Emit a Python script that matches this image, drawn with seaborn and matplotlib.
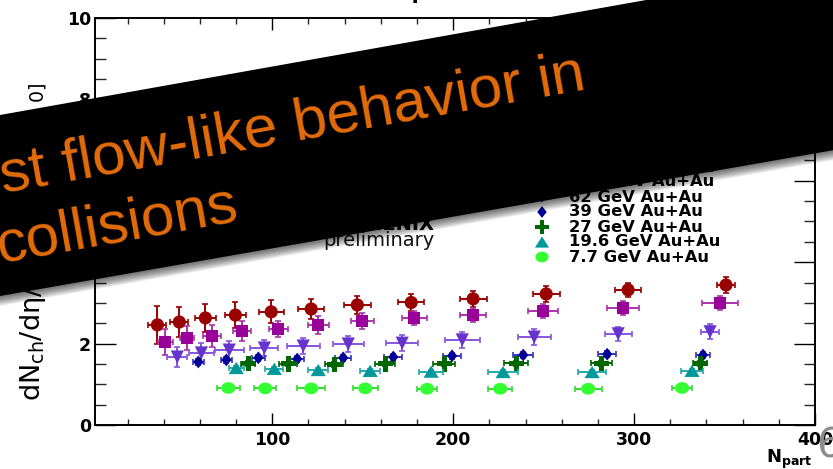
import numpy as np
import pandas as pd
import matplotlib
matplotlib.use("Agg")
import matplotlib.pyplot as plt
from matplotlib.path import Path
from matplotlib.patches import Polygon
from matplotlib.ticker import MultipleLocator
import seaborn as sns

# ---------------- data ----------------
labels = ["200 GeV Au+Au", "130 GeV Au+Au", "62 GeV Au+Au", "39 GeV Au+Au",
          "27 GeV Au+Au", "19.6 GeV Au+Au", "7.7 GeV Au+Au"]

npart_200 = [36.5, 48.6, 63.0, 79.6, 99.4, 121.5, 147.0, 176.8, 211.0, 251.4, 296.7, 350.8]
val_200 = [2.46, 2.53, 2.63, 2.70, 2.78, 2.85, 2.95, 3.01, 3.10, 3.22, 3.32, 3.44]
xerr_200 = [5.0, 5.0, 5.8, 6.0, 7.0, 7.3, 7.3, 7.2, 7.5, 7.5, 7.0, 5.0]
yerr_200 = [0.47, 0.37, 0.34, 0.32, 0.28, 0.24, 0.23, 0.22, 0.20, 0.20, 0.17, 0.20]

npart_130 = [40.9, 53.0, 66.9, 83.4, 103.3, 125.4, 149.7, 178.5, 211.0, 249.7, 293.9, 347.5]
val_130 = [2.04, 2.14, 2.19, 2.31, 2.36, 2.46, 2.56, 2.63, 2.70, 2.80, 2.87, 3.00]
xerr_130 = [4.0, 4.0, 5.0, 5.0, 5.2, 5.8, 6.3, 7.0, 7.4, 8.3, 9.0, 10.0]
yerr_130 = [0.33, 0.30, 0.27, 0.25, 0.20, 0.22, 0.20, 0.18, 0.17, 0.17, 0.17, 0.17]

npart_62 = [47.5, 60.8, 76.2, 95.6, 117.1, 142.0, 171.8, 205.0, 244.8, 291.2, 342.0]
val_62 = [1.67, 1.77, 1.84, 1.89, 1.94, 1.99, 2.01, 2.09, 2.16, 2.24, 2.29]
xerr_62 = [5.5, 7.0, 8.0, 7.8, 9.2, 8.7, 9.0, 9.8, 9.2, 7.5, 5.0]
yerr_62 = [0.25, 0.24, 0.22, 0.20, 0.20, 0.20, 0.20, 0.20, 0.19, 0.18, 0.18]

npart_39 = [59.1, 74.6, 92.3, 113.8, 139.2, 166.9, 199.4, 238.7, 285.1, 338.1]
val_39 = [1.55, 1.60, 1.65, 1.62, 1.65, 1.67, 1.70, 1.72, 1.74, 1.72]
xerr_39 = [3.0, 3.0, 3.5, 4.0, 4.5, 5.0, 5.0, 5.5, 5.0, 4.0]
yerr_39 = [0.08, 0.08, 0.08, 0.08, 0.08, 0.08, 0.08, 0.08, 0.08, 0.08]

npart_27 = [86.7, 108.8, 134.3, 162.4, 195.0, 234.8, 281.8, 336.5]
val_27 = [1.51, 1.50, 1.49, 1.50, 1.50, 1.52, 1.52, 1.52]
xerr_27 = [4.0, 5.0, 5.0, 5.5, 6.0, 6.7, 5.8, 4.0]
yerr_27 = [0.06, 0.06, 0.06, 0.06, 0.06, 0.06, 0.06, 0.06]

npart_19 = [80.1, 101.1, 125.4, 154.1, 187.8, 227.6, 276.8, 332.0]
val_19 = [1.40, 1.38, 1.35, 1.33, 1.31, 1.30, 1.30, 1.33]
xerr_19 = [4.0, 5.0, 5.6, 5.6, 6.6, 8.3, 7.8, 6.3]
yerr_19 = [0.05, 0.05, 0.05, 0.05, 0.05, 0.05, 0.05, 0.05]

npart_7 = [75.7, 96.1, 121.5, 151.4, 185.6, 226.0, 274.6, 326.5]
val_7 = [0.91, 0.90, 0.90, 0.90, 0.89, 0.89, 0.89, 0.91]
xerr_7 = [6.3, 6.0, 7.8, 7.0, 5.5, 6.7, 7.5, 5.3]
yerr_7 = [0.05, 0.05, 0.05, 0.05, 0.05, 0.05, 0.05, 0.05]

x_ticks = [100, 200, 300, 400]
y_ticks = [0, 2, 4, 6, 8, 10]

# ---------------- styling ----------------
ellipse = Path(np.column_stack([np.cos(np.linspace(0, 2 * np.pi, 48)),
                                0.82 * np.sin(np.linspace(0, 2 * np.pi, 48))]), closed=True)
wide_tri = Path([(0, 0.8), (-1, -0.8), (1, -0.8), (0, 0.8)], closed=True)
slim_diamond = Path([(0, 1), (0.8, 0), (0, -1), (-0.8, 0), (0, 1)], closed=True)

series = [
    (npart_200, val_200, xerr_200, yerr_200, "o", 90, "#990000", "#990000"),
    (npart_130, val_130, xerr_130, yerr_130, "s", 75, "#990099", "#aa33aa"),
    (npart_62, val_62, xerr_62, yerr_62, "v", 90, "#6633cc", "#8855dd"),
    (npart_39, val_39, xerr_39, yerr_39, slim_diamond, 85, "#000099", "#3333bb"),
    (npart_27, val_27, xerr_27, yerr_27, "P", 120, "#006600", "#006600"),
    (npart_19, val_19, xerr_19, yerr_19, wide_tri, 120, "#009999", "#22aaaa"),
    (npart_7, val_7, xerr_7, yerr_7, ellipse, 105, "#33ff33", "#33dd33"),
]

sns.set_theme(style="ticks")
plt.rcParams["font.family"] = ["DejaVu Sans"]
plt.rcParams["mathtext.fontset"] = "dejavusans"

W, H = 833, 469
fig = plt.figure(figsize=(W / 100, H / 100), dpi=100)
fig.patch.set_facecolor("white")
ax = fig.add_axes([95 / W, 1 - 425 / H, 720 / W, 407 / H])
ax.set_facecolor("white")


def fx(px):
    return px / W


def fy(py):
    return 1 - py / H


# ---------------- data points ----------------
for i, (xs, ys, xe, ye, mk, sz, col, ecol) in enumerate(series):
    df = pd.DataFrame({"npart": xs, "value": ys})
    ax.errorbar(xs, ys, xerr=xe, yerr=ye, fmt="none", ecolor=ecol,
                elinewidth=1.4, capsize=2.2, capthick=1.2, zorder=2 + 2 * i)
    sns.scatterplot(data=df, x="npart", y="value", marker=mk, s=sz, color=col,
                    edgecolor="none", linewidth=0, ax=ax, legend=False,
                    zorder=3 + 2 * i)

# ---------------- axes ----------------
ax.set_xlim(2, 400)
ax.set_ylim(0, 10)
ax.set_xlabel("")
ax.set_ylabel("")
ax.set_xticks(x_ticks)
ax.set_xticklabels([str(t) for t in x_ticks], fontweight="bold", fontsize=12.5)
ax.set_yticks(y_ticks)
ax.set_yticklabels([str(t) for t in y_ticks], fontweight="bold", fontsize=12.5)
ax.xaxis.set_minor_locator(MultipleLocator(20))
ax.yaxis.set_minor_locator(MultipleLocator(0.5))
ax.tick_params(axis="x", which="major", direction="in", length=8.6, width=1.0,
               top=True, bottom=True, pad=4, colors="black")
ax.tick_params(axis="x", which="minor", direction="in", length=4.3, width=1.0,
               top=True, bottom=True)
ax.tick_params(axis="y", which="major", direction="in", length=15, width=1.0,
               left=True, right=True, pad=3, colors="black")
ax.tick_params(axis="y", which="minor", direction="in", length=7.9, width=1.0,
               left=True, right=True)
for sp in ax.spines.values():
    sp.set_visible(True)
    sp.set_linewidth(1.4)
    sp.set_color("black")

# legend drawn as a marker column with labels
for i, (xs, ys, xe, ye, mk, sz, col, ecol) in enumerate(series):
    row = 167 + 15 * i
    ax.scatter([(542 - 95) / 720], [(425 - row) / 407], marker=mk, s=sz * 0.85,
               color=col, edgecolor="none", transform=ax.transAxes, clip_on=False,
               zorder=20)
    ax.text((569 - 95) / 720, (425 - row) / 407, labels[i], transform=ax.transAxes,
            fontsize=11.8, fontweight="bold", ha="left", va="center", color="black")

fig.text(fx(434), fy(230), "PHENIX", fontsize=14, fontweight="bold", ha="right",
         va="baseline", color="black")
fig.text(fx(435), fy(246), "preliminary", fontsize=14, ha="right", va="baseline",
         color="#111111")

# axis titles
fig.text(fx(41), fy(83),
         r"dN$_{\mathrm{ch}}$/dη/(0.5 N$_{\mathrm{part}}$) $_{[η=0]}$",
         fontsize=19.5, rotation=90, rotation_mode="anchor", ha="right",
         va="baseline", color="black")
fig.text(fx(813), fy(463), r"$\mathbf{N}_{\mathbf{part}}$", fontsize=13,
         ha="right", va="baseline", color="black")
fig.text(fx(265), fy(-6), r"dN$_{\mathrm{ch}}$/dη", fontsize=29,
         ha="left", va="baseline", color="black")

# page number
fig.text(fx(816), fy(457), "6", fontsize=29, ha="left", va="baseline",
         color="#8c8c8c")

# ---------------- banner ----------------
def band(offset):
    xs_ = [-30, 880]
    top = [115 - 0.178 * x + offset for x in xs_]
    bot = [296 - 0.175 * x + offset for x in xs_]
    pts = [(fx(xs_[0]), fy(top[0])), (fx(xs_[1]), fy(top[1])),
           (fx(xs_[1]), fy(bot[1])), (fx(xs_[0]), fy(bot[0]))]
    return pts


for k in range(1, 11):
    fig.add_artist(Polygon(band(k), closed=True, transform=fig.transFigure,
                           facecolor="black", edgecolor="none", alpha=0.07,
                           zorder=9))
fig.add_artist(Polygon(band(0), closed=True, transform=fig.transFigure,
                       facecolor="black", edgecolor="none", zorder=10))

angle = np.degrees(np.arctan(0.1776))
orange = "#e46c0a"
fig.text(fx(3), fy(193 - 0.1776 * 3), "st flow-like behavior in",
         fontsize=43.5, family="Liberation Sans", color=orange, rotation=angle,
         rotation_mode="anchor", ha="left", va="baseline", zorder=11)
fig.text(fx(-1), fy(262 + 0.1776 * 1), "collisions",
         fontsize=43.5, family="Liberation Sans", color=orange, rotation=angle,
         rotation_mode="anchor", ha="left", va="baseline", zorder=11)

fig.savefig("out.png", dpi=100, facecolor="white")
